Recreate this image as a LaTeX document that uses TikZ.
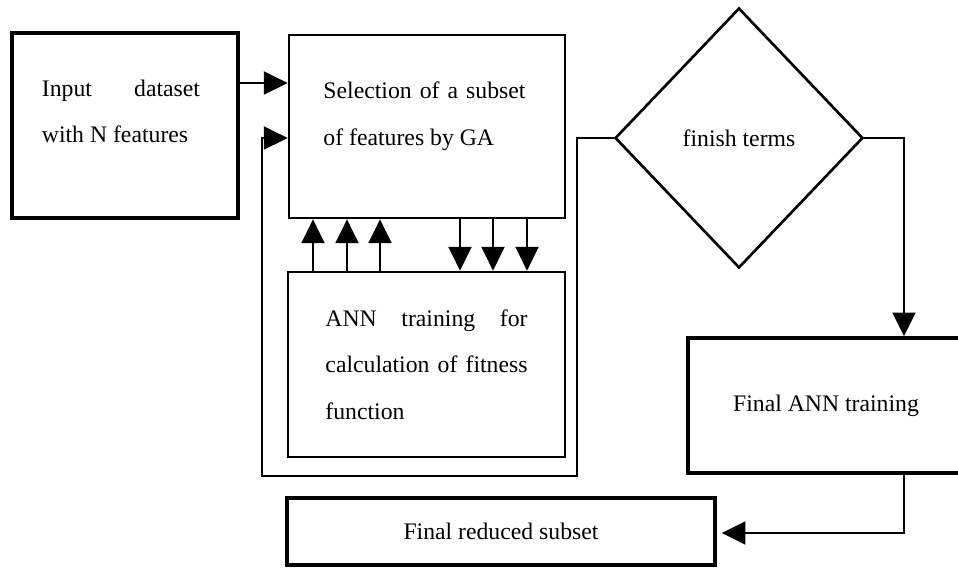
\documentclass[tikz,border=0pt]{standalone}
\usepackage{fontspec}
\setmainfont{Liberation Serif}
\usetikzlibrary{arrows.meta}
\usetikzlibrary{shapes.geometric}

\begin{document}
\begin{tikzpicture}[x=0.02cm,y=-0.02cm]
\tikzset{>={Triangle[width=13pt,length=13.5pt]}}
\tikzstyle{box} =[draw, line width=1.6pt, inner sep=0pt]
\tikzstyle{tfont} =[font=\fontsize{13.5}{26.6}\selectfont]
\tikzstyle{txt} =[tfont, align=justify, inner sep=0pt]
\tikzstyle{link} =[line width=1.5pt]

\useasboundingbox (0,0) rectangle (958,569);

\node[box,line width=2pt,minimum width=4.52cm,minimum height=3.7cm](inp) at (125,125.5){};
\node[txt,text width=90pt](inptxt) at (121,111.5){Input dataset with N features};

\node[box,minimum width=5.52cm,minimum height=3.66cm](sel) at (427,126.5){};
\node[txt,text width=115pt](seltxt) at (424.5,116.5){Selection of a subset of features by GA};

\node[box,txt,text width=115pt,minimum width=5.54cm,minimum height=3.7cm](ann) at (426.5,364.5){ANN training for calculation of fitness function};

\node[draw,diamond,line width=1.5pt,inner sep=0pt,tfont,minimum width=4.96cm,minimum height=5.2cm](dia) at (739,138){finish terms};

\node[box,tfont,line width=2pt,minimum width=5.52cm,minimum height=2.7cm](fin) at (826,405.5){Final ANN training};

\node[box,tfont,line width=2pt,minimum width=8.56cm,minimum height=1.34cm](red) at (501,531.5){Final reduced subset};

\draw [->,link] (inp.east |- 0,83) -- (sel.west |- 0,83);
\draw [->,link] (dia.west) -- (577,138) -- (577,476) -- (262,476) -- (262,138) -- (sel.west |- 0,138);
\draw [->,link] (dia.east) -- (904,138) -- (fin.north -| 904,0);
\draw [->,link,shorten >=0.1cm] (fin.south -| 904,0) -- (904,533) -- (red.east |- 0,533);

\foreach \x in {313,347,380}
  \draw [->,link] (ann.north -| \x,0) -- (sel.south -| \x,0);
\foreach \x in {460,493,527}
  \draw [->,link] (sel.south -| \x,0) -- (ann.north -| \x,0);
\end{tikzpicture}
\end{document}
